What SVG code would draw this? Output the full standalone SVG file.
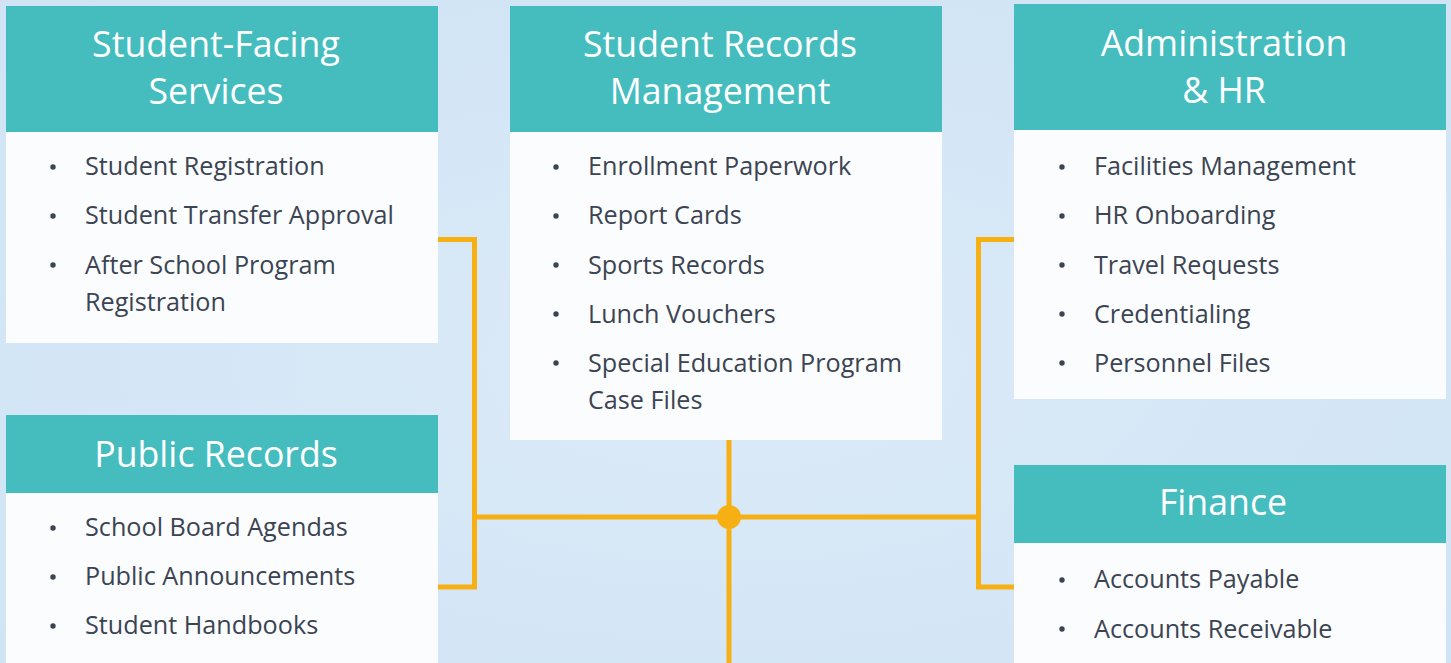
<svg xmlns="http://www.w3.org/2000/svg" width="1451" height="663" viewBox="0 0 1451 663">
<defs>
<radialGradient id="bg" cx="0.5" cy="0.55" r="0.7">
<stop offset="0" stop-color="#dbeaf8"/>
<stop offset="1" stop-color="#d0e4f5"/>
</radialGradient>
<style>
.hdr{fill:#45bdbf}
.body{fill:#fbfcfe}
.title{font-family:"Open Sans","Liberation Sans",sans-serif;font-size:35.7px;fill:#ffffff;text-anchor:middle}
.item{font-family:"Open Sans","Liberation Sans",sans-serif;font-size:25.2px;fill:#3b4452}
.bul{fill:#3b4452}
.conn{fill:none;stroke:#f7b014;stroke-width:5}
</style>
</defs>
<rect width="1451" height="663" fill="url(#bg)"/>

<g id="connectors">
<polyline class="conn" points="438,239.5 474.5,239.5 474.5,587 438,587"/>
<polyline class="conn" points="1015,239.5 978.5,239.5 978.5,587 1015,587"/>
<line class="conn" x1="474.5" y1="517" x2="978.5" y2="517"/>
<line class="conn" x1="729" y1="440" x2="729" y2="663"/>
<circle cx="729" cy="517" r="12" fill="#f7b014"/>
</g>

<g id="student-facing">
<rect class="body" x="6" y="6" width="432" height="337"/>
<rect class="hdr" x="6" y="6" width="432" height="126"/>
<text class="title" x="216" y="57">Student-Facing</text>
<text class="title" x="216" y="104">Services</text>
<circle class="bul" cx="53" cy="167" r="2.7"/>
<text class="item" x="85" y="175">Student Registration</text>
<circle class="bul" cx="53" cy="216" r="2.7"/>
<text class="item" x="85" y="224">Student Transfer Approval</text>
<circle class="bul" cx="53" cy="265" r="2.7"/>
<text class="item" x="85" y="274">After School Program</text>
<text class="item" x="85" y="311">Registration</text>
</g>

<g id="public-records">
<rect class="body" x="6" y="415" width="432" height="260"/>
<rect class="hdr" x="6" y="415" width="432" height="78"/>
<text class="title" x="216" y="467">Public Records</text>
<circle class="bul" cx="53" cy="528" r="2.7"/>
<text class="item" x="85" y="536">School Board Agendas</text>
<circle class="bul" cx="53" cy="577" r="2.7"/>
<text class="item" x="85" y="585">Public Announcements</text>
<circle class="bul" cx="53" cy="626" r="2.7"/>
<text class="item" x="85" y="634">Student Handbooks</text>
</g>

<g id="student-records">
<rect class="body" x="510" y="6" width="432" height="434"/>
<rect class="hdr" x="510" y="6" width="432" height="126"/>
<text class="title" x="720" y="57">Student Records</text>
<text class="title" x="720" y="104">Management</text>
<circle class="bul" cx="556" cy="167" r="2.7"/>
<text class="item" x="588" y="175">Enrollment Paperwork</text>
<circle class="bul" cx="556" cy="216" r="2.7"/>
<text class="item" x="588" y="224">Report Cards</text>
<circle class="bul" cx="556" cy="265" r="2.7"/>
<text class="item" x="588" y="274">Sports Records</text>
<circle class="bul" cx="556" cy="314" r="2.7"/>
<text class="item" x="588" y="323">Lunch Vouchers</text>
<circle class="bul" cx="556" cy="363" r="2.7"/>
<text class="item" x="588" y="372">Special Education Program</text>
<text class="item" x="588" y="409">Case Files</text>
</g>

<g id="administration-hr">
<rect class="body" x="1014" y="4" width="432" height="395"/>
<rect class="hdr" x="1014" y="4" width="432" height="126"/>
<text class="title" x="1224" y="56">Administration</text>
<text class="title" x="1224" y="103">&amp; HR</text>
<circle class="bul" cx="1062" cy="167" r="2.7"/>
<text class="item" x="1094" y="175">Facilities Management</text>
<circle class="bul" cx="1062" cy="216" r="2.7"/>
<text class="item" x="1094" y="224">HR Onboarding</text>
<circle class="bul" cx="1062" cy="265" r="2.7"/>
<text class="item" x="1094" y="274">Travel Requests</text>
<circle class="bul" cx="1062" cy="314" r="2.7"/>
<text class="item" x="1094" y="323">Credentialing</text>
<circle class="bul" cx="1062" cy="363" r="2.7"/>
<text class="item" x="1094" y="372">Personnel Files</text>
</g>

<g id="finance">
<rect class="body" x="1014" y="465" width="432" height="210"/>
<rect class="hdr" x="1014" y="465" width="432" height="78"/>
<text class="title" x="1223" y="515">Finance</text>
<circle class="bul" cx="1062" cy="580" r="2.7"/>
<text class="item" x="1094" y="588">Accounts Payable</text>
<circle class="bul" cx="1062" cy="629" r="2.7"/>
<text class="item" x="1094" y="638">Accounts Receivable</text>
</g>
</svg>
